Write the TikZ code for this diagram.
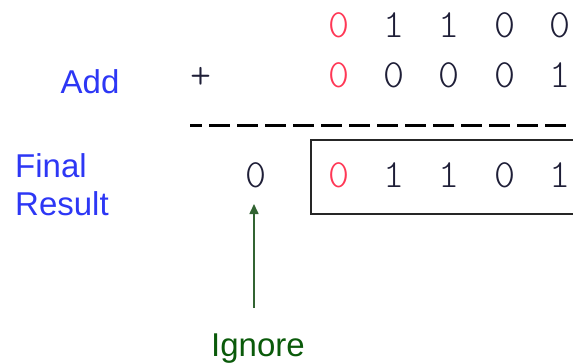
\documentclass[tikz,border=0pt]{standalone}
\usepackage{fontspec}
\setmainfont{Liberation Sans}
\newfontfamily\digitfont{Latin Modern Mono Light}
\usetikzlibrary{arrows.meta}
\definecolor{lblblue}{RGB}{45,55,245}
\definecolor{digred}{RGB}{255,55,85}
\definecolor{digdark}{RGB}{30,30,55}
\definecolor{igngreen}{RGB}{10,90,10}
\definecolor{arrgreen}{RGB}{50,100,50}
\begin{document}
\begin{tikzpicture}[x=1pt,y=-1pt,
  dig/.style={inner sep=0pt,font=\digitfont\fontsize{40}{40}\selectfont,text=digdark},
  rdig/.style={dig,text=digred},
  lbl/.style={inner sep=0pt,font=\fontsize{33}{33}\selectfont,text=lblblue,anchor=base west},
  ign/.style={inner sep=0pt,font=\fontsize{33}{33}\selectfont,text=igngreen,anchor=base}]
\useasboundingbox (0,0) rectangle (573,362);
% row 1
\node[rdig] (a1) at (339,25) {0};
\node[dig] (a2) at (394,25) {1};
\node[dig] (a3) at (449,25) {1};
\node[dig] (a4) at (505,25) {0};
\node[dig] (a5) at (560,25) {0};
% row 2
\node[lbl,anchor=base] (add) at (90,93) {Add};
\node[dig] (plus) at (201,78) {+};
\node[rdig] (b1) at (339,75) {0};
\node[dig] (b2) at (394,75) {0};
\node[dig] (b3) at (449,75) {0};
\node[dig] (b4) at (505,75) {0};
\node[dig] (b5) at (560,75) {1};
% dashed line
\coordinate (dl) at (190,125);
\coordinate (dr) at (580,125);
\draw[line width=3pt,dash pattern=on 21pt off 7pt,dash phase=9pt] (dl) -- (dr);
% result box
\coordinate (bx1) at (311,140);
\coordinate (bx2) at (590,214);
\draw[line width=1.3pt,draw=black!85] (bx1) rectangle (bx2);
% row 3
\node[lbl] (final) at (15,177) {Final};
\node[lbl] (result) at (15,215) {Result};
\node[dig] (carry) at (256,175) {0};
\node[rdig] (c1) at (339,175) {0};
\node[dig] (c2) at (394,175) {1};
\node[dig] (c3) at (449,175) {1};
\node[dig] (c4) at (505,175) {0};
\node[dig] (c5) at (560,175) {1};
% ignore
\node[ign] (ignore) at (258,356) {Ignore};
\coordinate (ab) at (254,308);
\coordinate (at) at (254,204);
\draw[arrgreen,line width=1.6pt,-{Triangle[length=10pt,width=9pt]}] (ab) -- (at);
\end{tikzpicture}
\end{document}
